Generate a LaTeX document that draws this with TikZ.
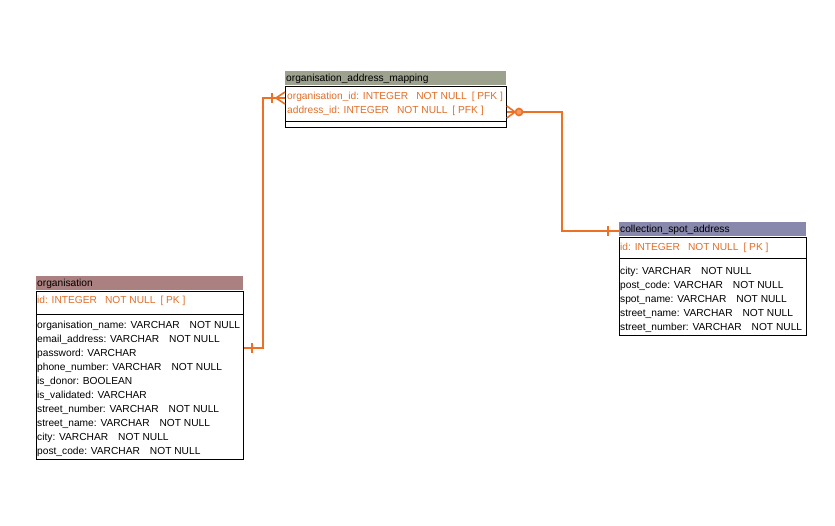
\documentclass[tikz,border=0pt]{standalone}
\usepackage{fontspec}
\setmainfont{Liberation Sans}
\definecolor{lineor}{RGB}{238,112,36}
\definecolor{keyor}{RGB}{226,110,40}
\definecolor{hdmap}{RGB}{156,162,142}
\definecolor{hdorg}{RGB}{170,128,128}
\definecolor{hdcol}{RGB}{136,136,172}
\newcommand{\gp}{\hspace{10pt}}
\newcommand{\gk}{\hspace{8pt}}
\newcommand{\gs}{\hspace{5pt}}
\begin{document}
\begin{tikzpicture}[x=1pt,y=-1pt,
  font=\fontsize{10.2}{12}\selectfont,
  hdr/.style={anchor=north west, inner xsep=1pt, inner ysep=0pt, minimum height=14pt, align=left, text height=8pt, text depth=2pt},
  box/.style={anchor=north west, draw=black, line width=0.8pt, inner sep=0pt},
  keyrow/.style={anchor=base west, inner sep=0pt, text=keyor},
  row/.style={anchor=base west, inner sep=0pt, text=black},
  rel/.style={draw=lineor, line width=2pt},
  endmk/.style={draw=lineor, line width=1.6pt}
]
\useasboundingbox (0,0) rectangle (835,525);
\fill[white] (0,0) rectangle (835,525);

% ---------------- organisation_address_mapping
\node[hdr, fill=hdmap, minimum width=221pt, text width=219pt] (maph) at (285,71) {organisation\_address\_mapping};
\node[box, minimum width=221pt, minimum height=35pt] (mapk) at (285,86) {};
\node[box, minimum width=221pt, minimum height=6pt] (mapn) at (285,121) {};
\node[keyrow] (m1) at (287,99) {organisation\_id: INTEGER\gk NOT NULL\gs[ PFK ]};
\node[keyrow] (m2) at (287,113) {address\_id: INTEGER\gk NOT NULL\gs[ PFK ]};

% ---------------- organisation
\node[hdr, fill=hdorg, minimum width=207pt, text width=205pt] (orgh) at (36,276) {organisation};
\node[box, minimum width=207pt, minimum height=23pt] (orgk) at (36,291) {};
\node[box, minimum width=207pt, minimum height=145pt] (orgn) at (36,314) {};
\node[keyrow] (o0) at (37,303) {id: INTEGER\gk NOT NULL\gs[ PK ]};
\node[row] (o1) at (37,328) {organisation\_name: VARCHAR\gp NOT NULL};
\node[row] (o2) at (37,342) {email\_address: VARCHAR\gp NOT NULL};
\node[row] (o3) at (37,356) {password: VARCHAR};
\node[row] (o4) at (37,370) {phone\_number: VARCHAR\gp NOT NULL};
\node[row] (o5) at (37,384) {is\_donor: BOOLEAN};
\node[row] (o6) at (37,398) {is\_validated: VARCHAR};
\node[row] (o7) at (37,412) {street\_number: VARCHAR\gp NOT NULL};
\node[row] (o8) at (37,426) {street\_name: VARCHAR\gp NOT NULL};
\node[row] (o9) at (37,440) {city: VARCHAR\gp NOT NULL};
\node[row] (o10) at (37,454) {post\_code: VARCHAR\gp NOT NULL};

% ---------------- collection_spot_address
\node[hdr, fill=hdcol, minimum width=187pt, text width=185pt] (colh) at (619,222) {collection\_spot\_address};
\node[box, minimum width=187pt, minimum height=21pt] (colk) at (619,237) {};
\node[box, minimum width=187pt, minimum height=77pt] (coln) at (619,258) {};
\node[keyrow] (c0) at (620,250) {id: INTEGER\gk NOT NULL\gs[ PK ]};
\node[row] (c1) at (620,274) {city: VARCHAR\gp NOT NULL};
\node[row] (c2) at (620,288) {post\_code: VARCHAR\gp NOT NULL};
\node[row] (c3) at (620,302) {spot\_name: VARCHAR\gp NOT NULL};
\node[row] (c4) at (620,316) {street\_name: VARCHAR\gp NOT NULL};
\node[row] (c5) at (620,330) {street\_number: VARCHAR\gp NOT NULL};

% ---------------- connectors
\coordinate (j1) at (263,348);
\coordinate (j2) at (263,98);
\draw[rel] (orgn.east |- j1) -- (j1) -- (j2) -- (mapk.west |- j2);
\coordinate (j3) at (562,112);
\coordinate (j4) at (562,231);
\draw[rel] (mapk.east |- j3) -- (j3) -- (j4) -- (colh.west |- j4);

% end marks: organisation side (one)
\draw[endmk] (252,343) -- (252,353);
% mapping left (one or many)
\draw[endmk] (272,93) -- (272,103);
\draw[endmk] (276,98) -- (mapk.west |- 0,92);
\draw[endmk] (276,98) -- (mapk.west |- 0,104);
% mapping right (zero or many)
\draw[endmk] (515,112) -- (mapk.east |- 0,106);
\draw[endmk] (515,112) -- (mapk.east |- 0,118);
\draw[endmk, fill=lineor!70] (519,112) circle (3.5pt);
% collection side (one)
\draw[endmk] (608,226) -- (608,236);
\end{tikzpicture}
\end{document}
